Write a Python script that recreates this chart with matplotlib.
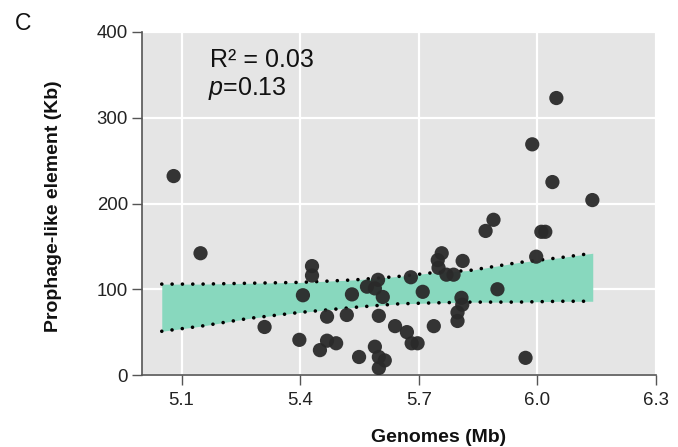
import numpy as np
import matplotlib.pyplot as plt

plt.rcParams['font.family'] = ['Liberation Sans', 'DejaVu Sans']
plt.rcParams['mathtext.fontset'] = 'custom'
plt.rcParams['mathtext.it'] = 'Liberation Sans:italic'
plt.rcParams['mathtext.rm'] = 'Liberation Sans'

# genome size (Mb) vs prophage-like element (Kb)
genome_mb = [5.080, 5.148, 5.310, 5.398, 5.407, 5.430, 5.430, 5.468, 5.450, 5.468,
             5.491, 5.518, 5.531, 5.549, 5.569, 5.589, 5.597, 5.609, 5.599, 5.589,
             5.599, 5.614, 5.599, 5.640, 5.670, 5.680, 5.682, 5.697, 5.710, 5.738,
             5.748, 5.750, 5.758, 5.770, 5.788, 5.811, 5.808, 5.810, 5.798, 5.798,
             5.869, 5.889, 5.899, 5.970, 5.987, 5.997, 6.010, 6.020, 6.038, 6.048,
             6.139]
prophage_kb = [232, 142, 56, 41, 93, 127, 116, 68, 29, 40,
               37, 70, 94, 21, 103, 101, 111, 91, 69, 33,
               21, 17, 8, 57, 50, 114, 37, 37, 97, 57,
               134, 125, 142, 117, 117, 133, 90, 82, 73, 63,
               168, 181, 100, 20, 269, 138, 167, 167, 225, 323,
               204]

# confidence band of the fit
band_x = [5.05, 5.15, 5.27, 5.40, 5.54, 5.65, 5.73, 5.83, 5.95, 6.06, 6.14]
band_hi = [106, 106, 107, 108, 111, 115, 119, 122, 131, 137, 142]
band_lo = [51, 57, 66, 73, 79, 83, 84, 85, 85, 86, 86]

x_ticks = [5.1, 5.4, 5.7, 6.0, 6.3]
y_ticks = [0, 100, 200, 300, 400]

fig = plt.figure(figsize=(6.78, 4.47), dpi=100)
ax = fig.add_axes([142/678, 1 - 375/447, 514/678, 343/447])
ax.set_facecolor('#E5E5E5')

ax.fill_between(band_x, band_lo, band_hi, color='#88D8BE', lw=0, zorder=2)
for yy in (band_hi, band_lo):
    ax.plot(band_x, yy, color='black', lw=2.6, linestyle=(0, (0.01, 2.85)),
            dash_capstyle='round', zorder=2.5)

ax.scatter(genome_mb, prophage_kb, s=105, color='#2a2a2a', edgecolors='none',
           alpha=0.95, zorder=3)

ax.set_xlim(5.0, 6.3)
ax.set_ylim(0, 400)
ax.set_xticks(x_ticks)
ax.set_xticklabels(['%.1f' % v for v in x_ticks])
ax.set_yticks(y_ticks)
ax.grid(True, color='white', lw=1.6, zorder=0)
ax.set_axisbelow(True)

for s in ('top', 'right'):
    ax.spines[s].set_visible(False)
for s in ('left', 'bottom'):
    ax.spines[s].set_color('#555555')
    ax.spines[s].set_linewidth(1.2)
ax.tick_params(length=7, width=1, color='#555555', labelsize=13.4,
               labelcolor='#222222')
ax.tick_params(axis='x', pad=5)
ax.tick_params(axis='y', pad=3)

fig.text(439/678, 1 - 442/447, 'Genomes (Mb)', ha='center', va='baseline',
         fontsize=14, fontweight='bold', color='#111111')
fig.text(53/678, 1 - 206/447, 'Prophage-like element (Kb)', ha='center', va='center',
         rotation=90, fontsize=14, fontweight='bold', color='#111111')
fig.text(15/678, 1 - 30/447, 'C', ha='left', va='baseline', fontsize=16.5,
         color='#111111')

ax.text(0.132, 0.898, 'R² = 0.03', transform=ax.transAxes, fontsize=18,
        va='baseline', ha='left', color='#111111')
ax.text(0.128, 0.816, '$p$=0.13', transform=ax.transAxes, fontsize=18,
        va='baseline', ha='left', color='#111111')

fig.savefig('out.png', dpi=100)
